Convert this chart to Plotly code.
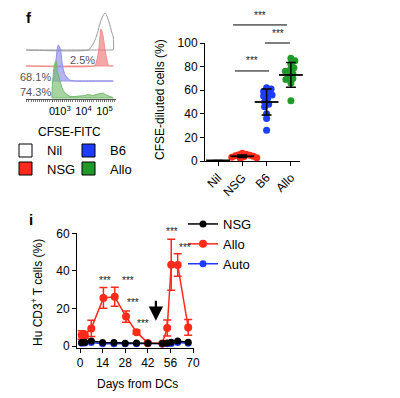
import plotly.graph_objects as go

W, H = 400, 398
FONT = "Liberation Sans, Arial, sans-serif"


def px(p):
    return p / W


def py(p):
    return 1 - p / H


# ---------------- panel f : CFSE histograms (x in log-decade units) ----------------
hist_tickvals = [2.5, 3, 4, 5]
hist_ticktext = ["0", "10<sup>3</sup>", "10<sup>4</sup>", "10<sup>5</sup>"]

nil_u = [1.26, 4.23, 4.40, 4.55, 4.68, 4.79, 4.92, 5.03, 5.10, 5.18, 5.27, 5.345, 5.42]
nil_h = [0, 0, 4, 10, 18, 27, 34, 37, 35, 30, 24, 18, 13]
nil_base = 48

nsg_u = [1.26, 4.50, 4.60, 4.71, 4.78, 4.83, 4.88, 4.94, 5.00, 5.07, 5.13, 5.18, 5.25, 5.42]
nsg_h = [0, 0, 3, 13, 28, 37, 35, 29, 20, 11, 5, 1, 0, 0]
nsg_base = 32

b6_u = [2.55, 2.62, 2.69, 2.75, 2.80, 2.86, 2.91, 2.96, 3.01, 3.07, 3.12, 3.20, 3.28, 3.40, 3.60, 5.42]
b6_h = [0, 8, 21, 32, 36, 34, 31, 22, 14, 9, 6, 4, 2, 0.5, 0, 0]
b6_base = 17

allo_u = [2.50, 2.53, 2.58, 2.63, 2.69, 2.73, 2.77, 2.85, 2.96, 3.05, 3.12, 3.25, 3.36, 3.60,
          3.80, 4.07, 4.20, 4.31, 4.45, 4.60, 4.71, 4.85, 4.92, 5.00, 5.10, 5.25, 5.35, 5.42]
allo_h = [0, 15, 28, 34, 37, 33, 26, 20, 11, 7, 5, 3, 1.5, 1.5,
          2, 2.5, 3.5, 3, 2.5, 3.5, 4, 4.5, 5, 4, 3, 1.5, 1, 0]
allo_base = 0

hist_pct_labels = ["2.5%", "68.1%", "74.3%"]

# ---------------- panel f : CFSE-diluted scatter ----------------
groups = ["Nil", "NSG", "B6", "Allo"]
nsg_pts = [6.5, 5.8, 5.2, 4.8, 4.4, 4.0, 3.6, 3.2, 2.8, 2.4]
b6_pts = [62, 61, 59, 57, 56, 55, 53, 50, 48, 46, 40, 36, 26]
allo_pts = [87, 85, 82, 79, 77, 76, 74, 72, 70, 69, 66, 51]
group_mean = [0.5, 4.0, 50.0, 72.9]
group_sd = [0, 1.0, 11.0, 10.5]

# ---------------- panel i : Hu CD3+ T cells over time ----------------
day_ticks = [0, 14, 28, 42, 56, 70]
nsg_days = [1, 3, 7, 14, 21, 28, 35, 42, 51, 54, 56.5, 60.5, 67]
nsg_vals = [2.0, 2.2, 2.8, 2.0, 2.0, 1.6, 1.8, 1.6, 1.5, 1.8, 2.2, 2.8, 2.2]
allo_days = [1, 3, 7, 14.5, 21.5, 28.5, 35, 42, 51, 54, 56.5, 60.5, 67]
allo_vals = [6.0, 6.0, 9.5, 25.7, 26.3, 15.8, 7.5, 1.8, 1.5, 9.7, 43.3, 43.2, 10.0]
allo_err = [2.2, 1.8, 4.3, 5.5, 5.0, 3.0, 1.0, 0.5, 0.3, 4.2, 13.5, 6.0, 4.2]
auto_days = [1, 3, 7, 14, 21, 28, 35, 42, 51, 54, 56.5, 60.5, 67]
auto_vals = [1.6, 1.8, 2.0, 1.4, 1.4, 1.3, 1.4, 1.3, 1.2, 1.3, 1.5, 2.0, 1.6]

RED = "#ff2a1a"
BLUE = "#1f3bff"
GREEN = "#1f9a2a"

# pixel geometry of the axes
SC_Y0, SC_Y100 = 161, 43          # scatter y=0 and y=100 pixel rows
TC_Y0, TC_Y60 = 346.3, 233.3      # time-course y=0 and y=60 pixel rows


def sc_paper_y(v):
    return py(SC_Y0 - v * (SC_Y0 - SC_Y100) / 100)


def tc_paper_y(v):
    return py(TC_Y0 - v * (TC_Y0 - TC_Y60) / 60)


fig = go.Figure()


def ridge(u, h, base, fill, line, name):
    xs = list(u) + list(reversed(u))
    ys = [base + v for v in h] + [base] * len(u)
    fig.add_trace(go.Scatter(x=xs, y=ys, mode="lines", fill="toself" if fill else None,
                             fillcolor=fill, line=dict(color=line, width=1, shape="spline", smoothing=0.6),
                             xaxis="x", yaxis="y", showlegend=False, hoverinfo="skip", name=name))


ridge(nil_u, nil_h, nil_base, None, "#9a9a9a", "Nil")
ridge(nsg_u, nsg_h, nsg_base, "rgba(240,120,120,0.65)", "#f08a8a", "NSG")
ridge(b6_u, b6_h, b6_base, "rgba(140,140,240,0.65)", "#8c8ce8", "B6")
ridge(allo_u, allo_h, allo_base, "rgba(120,190,110,0.65)", "#70b868", "Allo")

# ---- scatter with swarm offsets
PX_CAT = 24.3
PX_UNIT = (SC_Y0 - SC_Y100) / 100


def swarm(vals, center, diam=4.5):
    placed, xs = [], []
    for v in vals:
        y = v * PX_UNIT
        best = None
        for k in range(0, 60):
            for sgn in ([0] if k == 0 else [1, -1]):
                off = sgn * k * 0.5
                if all((off - ox) ** 2 + (y - oy) ** 2 >= diam ** 2 for ox, oy in placed):
                    best = off
                    break
            if best is not None:
                break
        placed.append((best, y))
        xs.append(center + best / PX_CAT)
    return xs


for pts, ci, col, dm in [(nsg_pts, 1, RED, 3.6), (b6_pts, 2, BLUE, 4.5), (allo_pts, 3, GREEN, 4.5)]:
    fig.add_trace(go.Scatter(x=swarm(pts, ci, dm), y=pts, mode="markers",
                             marker=dict(color=col, size=7, line=dict(width=0)),
                             xaxis="x2", yaxis="y2", showlegend=False, cliponaxis=False))

fig.add_trace(go.Scatter(x=list(range(len(groups))), y=group_mean, mode="markers",
                         marker=dict(symbol="line-ew", size=17, line=dict(width=1.8, color="black")),
                         error_y=dict(type="data", array=group_sd, color="black", thickness=1.5, width=5),
                         xaxis="x2", yaxis="y2", showlegend=False, cliponaxis=False))

# ---- time course
fig.add_trace(go.Scatter(x=auto_days, y=auto_vals, name="Auto", mode="lines+markers",
                         line=dict(color=BLUE, width=1.5), marker=dict(color=BLUE, size=7),
                         xaxis="x3", yaxis="y3", cliponaxis=False))
fig.add_trace(go.Scatter(x=allo_days, y=allo_vals, name="Allo", mode="lines+markers",
                         line=dict(color=RED, width=1.5), marker=dict(color=RED, size=8),
                         error_y=dict(type="data", array=allo_err, color=RED, thickness=1.5, width=4),
                         xaxis="x3", yaxis="y3", cliponaxis=False))
fig.add_trace(go.Scatter(x=nsg_days, y=nsg_vals, name="NSG", mode="lines+markers",
                         line=dict(color="black", width=1.5), marker=dict(color="black", size=7),
                         xaxis="x3", yaxis="y3", cliponaxis=False))

axis_common = dict(showgrid=False, zeroline=False, showline=True, linecolor="black", linewidth=1,
                   ticks="outside", tickcolor="black", ticklen=4, automargin=False,
                   tickfont=dict(size=12, color="black"))

C = dict(xanchor="center", yanchor="middle", showarrow=False)

annotations = [
    dict(text="<b>f</b>", x=px(29), y=py(17), xref="paper", yref="paper", font=dict(size=15), **C),
    dict(text="<b>i</b>", x=px(31), y=py(220), xref="paper", yref="paper", font=dict(size=15), **C),
    dict(text="CFSE-FITC", x=px(69), y=py(132), xref="paper", yref="paper", font=dict(size=12), **C),
    dict(text=hist_pct_labels[0], x=3.93, y=38, xref="x", yref="y", font=dict(size=11, color="#555"), **C),
    dict(text=hist_pct_labels[1], x=1.69, y=21, xref="x", yref="y", font=dict(size=11, color="#555"), **C),
    dict(text=hist_pct_labels[2], x=1.69, y=6, xref="x", yref="y", font=dict(size=11, color="#555"), **C),
    dict(text="CFSE-diluted cells (%)", x=px(160), y=py(100), xref="paper", yref="paper",
         textangle=-90, font=dict(size=12), **C),
    dict(text="Hu CD3<sup>+</sup> T cells (%)", x=px(37), y=py(293), xref="paper", yref="paper",
         textangle=-90, font=dict(size=12), **C),
    dict(text="Days from DCs", x=px(137), y=py(384), xref="paper", yref="paper",
         font=dict(size=12), **C),
]

# legend boxes for panel f
legend_f = [("Nil", "white", 19, 144), ("B6", BLUE, 82, 144), ("NSG", RED, 19, 162), ("Allo", GREEN, 82, 162)]
shapes = []
for lab, col, x0, y0 in legend_f:
    shapes.append(dict(type="rect", xref="paper", yref="paper", x0=px(x0), x1=px(x0 + 13),
                       y0=py(y0 + 13), y1=py(y0), fillcolor=col, line=dict(color="black", width=1)))
    annotations.append(dict(text=lab, x=px(x0 + 26), y=py(y0 + 7), xref="paper", yref="paper",
                            xanchor="left", yanchor="middle", showarrow=False, font=dict(size=13)))

# significance bars (scatter)
for x0, x1, yv, xt, yt in [(0.62, 2.84, 115.3, 1.73, 123), (1.93, 2.96, 100, 2.45, 108),
                           (0.70, 2.10, 76.3, 1.40, 85)]:
    shapes.append(dict(type="line", xref="x2", yref="paper", x0=x0, x1=x1,
                       y0=sc_paper_y(yv), y1=sc_paper_y(yv), line=dict(color="black", width=1)))
    annotations.append(dict(text="***", x=xt, y=sc_paper_y(yt), xref="x2", yref="paper",
                            font=dict(size=10, color="#222"), **C))

# significance stars (time course)
for xt, yt in [(15.5, 35.0), (29.7, 35.0), (32.8, 23.5), (39.0, 12.2), (56.8, 61.0), (65.0, 52.2)]:
    annotations.append(dict(text="***", x=xt, y=tc_paper_y(yt), xref="x3", yref="paper",
                            font=dict(size=10, color="#222"), **C))

# arrow
annotations.append(dict(x=47, y=13.5, ax=47, ay=25, xref="x3", yref="y3", axref="x3", ayref="y3",
                        text="", showarrow=True, arrowhead=2, arrowsize=1.3, arrowwidth=2.2,
                        arrowcolor="black"))

fig.update_layout(
    template="none",
    width=W, height=H, margin=dict(l=0, r=0, t=0, b=0, autoexpand=False),
    paper_bgcolor="white", plot_bgcolor="white",
    font=dict(family=FONT, size=12, color="black"),
    xaxis=dict(domain=[px(26), px(116)], range=[1.26, 5.55], anchor="y", automargin=False,
               showgrid=False, zeroline=False, showline=True, linecolor="#555", linewidth=1,
               tickvals=hist_tickvals, ticktext=hist_ticktext, ticks="outside", ticklen=2,
               tickangle=0, tickcolor="#555", tickfont=dict(size=11, color="black"),
               minor=dict(ticks="outside", ticklen=2, dtick=0.1, tickcolor="#777")),
    yaxis=dict(domain=[py(99), py(3)], range=[-1, 95], anchor="x", visible=False, automargin=False),
    xaxis2=dict(domain=[px(205), px(300)], range=[-0.535, 3.375], anchor="y2",
                tickvals=list(range(len(groups))), ticktext=groups, tickangle=-45, **axis_common),
    yaxis2=dict(domain=[py(SC_Y0), py(SC_Y100)], range=[0, 100], anchor="x2",
                tickvals=[0, 20, 40, 60, 80, 100], **axis_common),
    xaxis3=dict(domain=[px(77), px(194)], range=[-1.86, 70.6], anchor="y3",
                tickvals=day_ticks, tickangle=0, **axis_common),
    yaxis3=dict(domain=[py(347.6), py(TC_Y60)], range=[-0.7, 60], anchor="x3",
                tickvals=[0, 20, 40, 60], **axis_common),
    legend=dict(x=px(183), y=py(209), xanchor="left", yanchor="top", traceorder="reversed",
                font=dict(size=13), bgcolor="rgba(0,0,0,0)", itemwidth=30),
    annotations=annotations, shapes=shapes,
)

fig.write_html("out.html", config={"displayModeBar": False},
               post_script="document.body.style.margin='0';")
